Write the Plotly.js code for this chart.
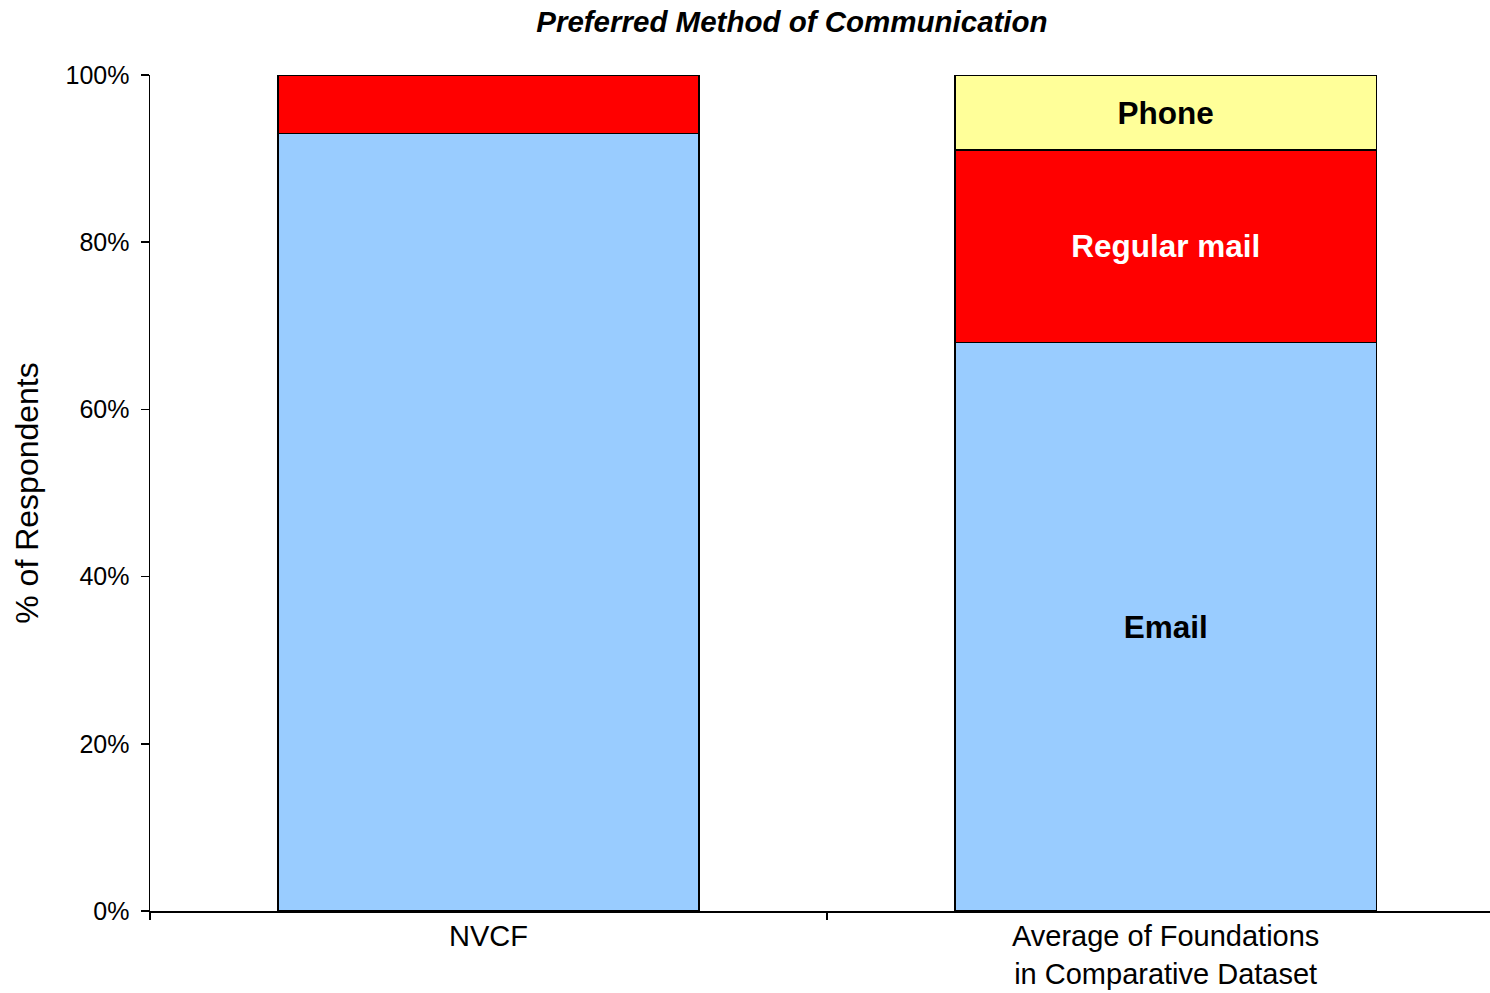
<!DOCTYPE html>
<html>
<head>
<meta charset="utf-8">
<script src="https://cdn.plot.ly/plotly-3.0.1.min.js"></script>
<style>html,body{margin:0;padding:0;background:#fff;}#chart{width:1490px;height:993px;}</style>
</head>
<body>
<div id="chart"></div>
<script>
const categories = ['NVCF', 'Average of Foundations<br>in Comparative Dataset'];
const emailValues = [0.93, 0.68];
const mailValues = [0.07, 0.23];
const phoneValues = [0.00, 0.09];
const emailLabels = ['', 'Email'];
const mailLabels = ['', 'Regular mail'];
const phoneLabels = ['', 'Phone'];
const yTickVals = [0, 0.2, 0.4, 0.6, 0.8, 1.0];

const FONT = 'Liberation Sans, Arial, sans-serif';
const outline = {color: '#000', width: 1.5};

function series(name, y, labels, color, textColor) {
  return {
    type: 'bar', name: name, x: categories, y: y,
    text: labels, textposition: 'inside', insidetextanchor: 'middle',
    textangle: 0, constraintext: 'none',
    insidetextfont: {family: FONT, size: 31.5, color: textColor, weight: 'bold'},
    marker: {color: color, line: outline},
    width: 0.622, hoverinfo: 'skip'
  };
}

const data = [
  series('Email', emailValues, emailLabels, '#99CCFF', '#000000'),
  series('Regular mail', mailValues, mailLabels, '#FF0000', '#FFFFFF'),
  series('Phone', phoneValues, phoneLabels, '#FFFF99', '#000000')
];

const layout = {
  width: 1490, height: 993,
  margin: {l: 150, r: 0, t: 75, b: 82, pad: 0},
  paper_bgcolor: '#fff', plot_bgcolor: '#fff',
  barmode: 'stack', showlegend: false,
  font: {family: FONT, color: '#000'},
  title: {
    text: '<b><i>Preferred Method of Communication</i></b>',
    font: {family: FONT, size: 29.5, color: '#000'},
    xref: 'container', x: 0.5315, xanchor: 'center',
    yref: 'container', y: 1 - 22/993, yanchor: 'middle'
  },
  xaxis: {
    type: 'category', range: [-0.5, 1.479],
    showline: true, linecolor: '#000', linewidth: 2,
    ticks: 'outside', tickson: 'boundaries', ticklen: 7, tickwidth: 1.5, tickcolor: '#000',
    ticklabelstandoff: -2,
    tickfont: {family: FONT, size: 29, color: '#000'},
    showgrid: false, zeroline: false, fixedrange: true
  },
  yaxis: {
    range: [0, 1], tickvals: yTickVals, tickformat: '.0%',
    showline: true, linecolor: '#000', linewidth: 1.5,
    ticks: 'outside', ticklen: 8, tickwidth: 1.5, tickcolor: '#000',
    ticklabelstandoff: 6,
    tickfont: {family: FONT, size: 25, color: '#000'},
    showgrid: false, zeroline: false, fixedrange: true,
    title: {text: '% of Respondents', font: {family: FONT, size: 32, color: '#000'}, standoff: 17}
  }
};

Plotly.newPlot('chart', data, layout, {displayModeBar: false, staticPlot: true});
</script>
</body>
</html>
